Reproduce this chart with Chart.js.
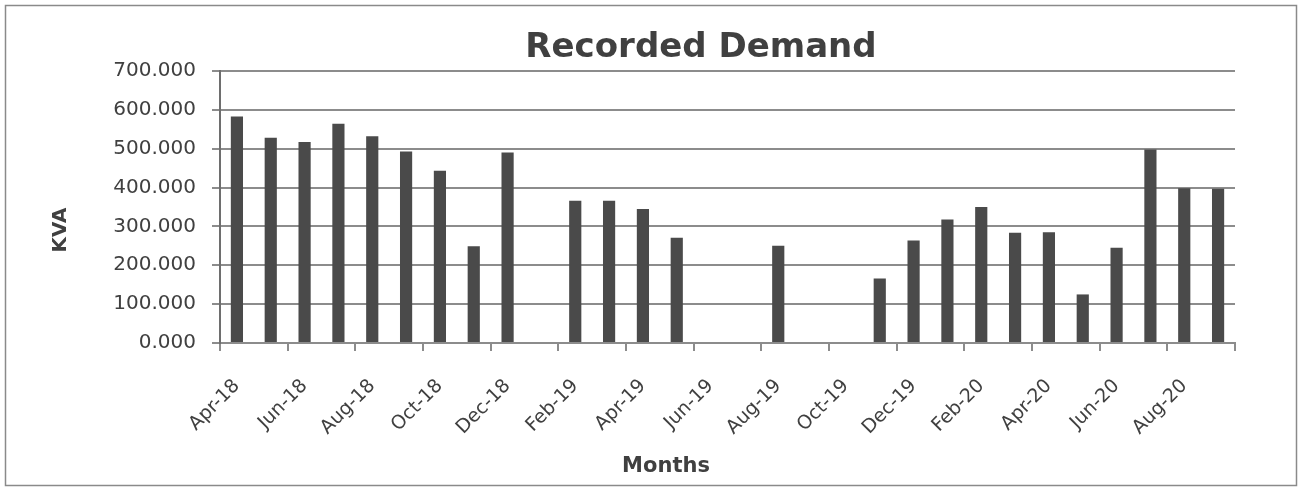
<!DOCTYPE html>
<html>
<head>
<meta charset="utf-8">
<script src="https://cdn.jsdelivr.net/npm/chart.js@4.4.1/dist/chart.umd.min.js"></script>
<style>
  html, body { margin: 0; padding: 0; background: #ffffff; }
  #wrap { position: relative; width: 1301px; height: 490px; }
  canvas { display: block; }
</style>
</head>
<body>
<div id="wrap"><canvas id="c" width="1301" height="490"></canvas></div>
<script>
const months = ["Apr-18","May-18","Jun-18","Jul-18","Aug-18","Sep-18","Oct-18","Nov-18","Dec-18","Jan-19",
                "Feb-19","Mar-19","Apr-19","May-19","Jun-19","Jul-19","Aug-19","Sep-19","Oct-19","Nov-19",
                "Dec-19","Jan-20","Feb-20","Mar-20","Apr-20","May-20","Jun-20","Jul-20","Aug-20","Sep-20"];
const demandKVA = [583, 528, 517, 564, 532, 493, 443, 249, 490, null,
                   366, 366, 345, 271, null, null, 250, null, null, 166,
                   264, 318, 350, 284, 285, 125, 245, 498, 398, 397];
const yTicks = [0, 100, 200, 300, 400, 500, 600, 700];
const chartTitle = "Recorded Demand";
const yTitle = "KVA";
const xTitle = "Months";

const FONT = "'DejaVu Sans', sans-serif";
const TEXT = "#404040";
const GRID = "#8c8c8c";

const decor = {
  id: 'decor',
  beforeDraw(chart) {
    const ctx = chart.ctx;
    ctx.save();
    ctx.fillStyle = '#ffffff';
    ctx.fillRect(0, 0, chart.width, chart.height);
    ctx.strokeStyle = '#8a8a8a';
    ctx.lineWidth = 1.5;
    ctx.strokeRect(5.5, 5.5, 1291, 480);
    ctx.restore();
  },
  afterDraw(chart) {
    const ctx = chart.ctx;
    const xs = chart.scales.x;
    ctx.save();
    // right end tick mark of the category axis
    ctx.strokeStyle = GRID;
    ctx.lineWidth = 2;
    ctx.beginPath();
    ctx.moveTo(xs.right, xs.top);
    ctx.lineTo(xs.right, xs.top + 8);
    ctx.stroke();
    ctx.fillStyle = TEXT;
    ctx.textAlign = 'center';
    ctx.textBaseline = 'alphabetic';
    ctx.font = "bold 34px " + FONT;
    ctx.fillText(chartTitle, 701, 57);
    ctx.font = "bold 21px " + FONT;
    ctx.fillText(xTitle, 666, 472);
    ctx.translate(66, 230);
    ctx.rotate(-Math.PI / 2);
    ctx.textBaseline = 'alphabetic';
    ctx.font = "bold 20px " + FONT;
    ctx.fillText(yTitle, 0, 0);
    ctx.restore();
  }
};

new Chart(document.getElementById('c'), {
  type: 'bar',
  data: {
    labels: months,
    datasets: [{
      label: 'Recorded Demand',
      data: demandKVA,
      backgroundColor: '#4a4a4a',
      borderWidth: 0,
      barPercentage: 0.36,
      categoryPercentage: 1.0
    }]
  },
  options: {
    responsive: false,
    animation: false,
    devicePixelRatio: 1,
    layout: { padding: { top: 71, right: 66, left: 0, bottom: 0 } },
    plugins: { legend: { display: false }, title: { display: false }, tooltip: { enabled: false } },
    scales: {
      x: {
        offset: true,
        grid: {
          offset: true,
          drawOnChartArea: false,
          drawTicks: true,
          tickLength: 8,
          lineWidth: 2,
          color: (c) => (c.index % 2 === 0 ? GRID : 'rgba(0,0,0,0)')
        },
        border: { display: true, color: GRID, width: 2 },
        ticks: {
          autoSkip: false,
          minRotation: 45,
          maxRotation: 45,
          padding: 24,
          color: TEXT,
          font: { family: FONT, size: 19 },
          callback: (v, i) => (i % 2 === 0 ? months[i] : '')
        },
        afterFit: (s) => { s.height = 147; }
      },
      y: {
        min: yTicks[0],
        max: yTicks[yTicks.length - 1],
        afterBuildTicks: (s) => { s.ticks = yTicks.map(v => ({ value: v })); },
        grid: {
          drawOnChartArea: true,
          drawTicks: true,
          tickLength: 8,
          lineWidth: 2,
          color: GRID
        },
        border: { display: true, color: '#6e6e6e', width: 2 },
        ticks: {
          padding: 16,
          color: TEXT,
          font: { family: FONT, size: 20 },
          callback: (v) => Number(v).toFixed(3)
        },
        afterFit: (s) => { s.width = 220; }
      }
    }
  },
  plugins: [decor]
});
</script>
</body>
</html>
